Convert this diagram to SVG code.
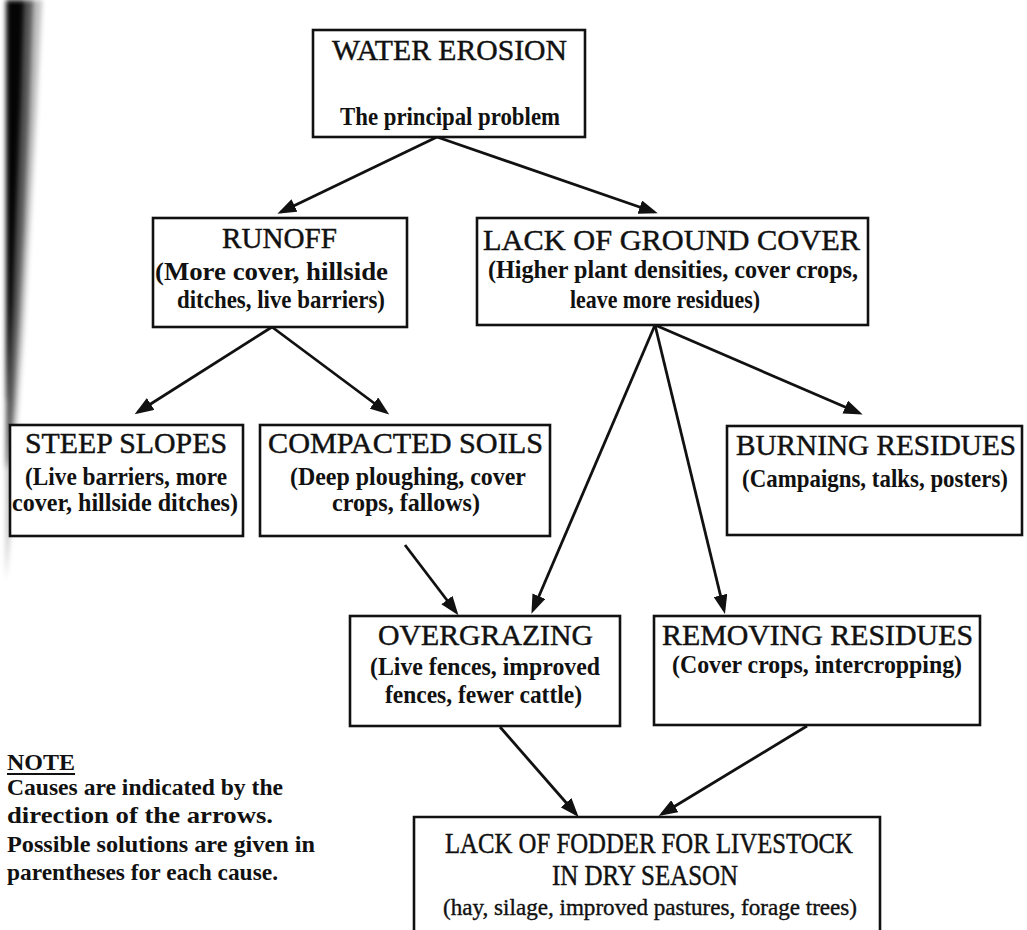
<svg xmlns="http://www.w3.org/2000/svg" width="1027" height="930" viewBox="0 0 1027 930">
  <defs>
    <style>
      .box { fill: #ffffff; stroke: #111111; stroke-width: 2.6; }
      .t { font-family: "Liberation Serif", "Times New Roman", serif; fill: #111111; }
      .title { font-size: 30px; font-weight: normal; stroke: #111111; stroke-width: 0.45; }
      .sub { font-size: 25px; font-weight: bold; }
      .note { font-size: 24px; font-weight: bold; }
      .link { stroke: #111111; stroke-width: 2.8; fill: none; marker-end: url(#head); }
    </style>
    <marker id="head" markerUnits="userSpaceOnUse" markerWidth="20" markerHeight="14" refX="15" refY="7" orient="auto">
      <path d="M0,0 L19,7 L0,14 Z" fill="#111111"/>
    </marker>
    <filter id="soften" x="-0.5" y="-0.1" width="2" height="1.2">
      <feGaussianBlur stdDeviation="2.5"/>
    </filter>
  </defs>

  <rect width="1027" height="930" fill="#ffffff"/>

  <!-- dark shading along the left margin, densest at the top -->
  <g id="margin-shade" filter="url(#soften)" fill="#000000">
    <path d="M6,0 L42,0 L36,120 L29,240 L23,340 L17,420 L11,520 L6,580 Z" opacity="0.25"/>
    <path d="M6,0 L33,0 L29,120 L24,230 L19,320 L14,400 L9,460 L6,470 Z" opacity="0.55"/>
    <path d="M6,0 L24,0 L21,100 L17,200 L13,300 L10,350 L7,400 L6,400 Z" opacity="0.95"/>
  </g>

  <g id="connectors">
    <line class="link" x1="437" y1="137" x2="281" y2="212"/>
    <line class="link" x1="437" y1="137" x2="654" y2="212"/>
    <line class="link" x1="272" y1="327" x2="138" y2="412"/>
    <line class="link" x1="272" y1="327" x2="386" y2="412"/>
    <line class="link" x1="655" y1="325" x2="859" y2="413"/>
    <line class="link" x1="655" y1="325" x2="533" y2="610"/>
    <line class="link" x1="655" y1="325" x2="724" y2="610"/>
    <line class="link" x1="405" y1="545" x2="456" y2="612"/>
    <line class="link" x1="500" y1="727" x2="576" y2="814"/>
    <line class="link" x1="807" y1="726" x2="662" y2="814"/>
  </g>

  <g id="water-erosion">
    <rect class="box" x="313" y="30" width="272" height="107"/>
    <text class="t title" x="332" y="60" textLength="235" lengthAdjust="spacingAndGlyphs">WATER EROSION</text>
    <text class="t sub" x="340" y="125" font-size="23" textLength="220" lengthAdjust="spacingAndGlyphs">The principal problem</text>
  </g>

  <g id="runoff">
    <rect class="box" x="153" y="218" width="254" height="109"/>
    <text class="t title" x="222" y="248" textLength="115" lengthAdjust="spacingAndGlyphs">RUNOFF</text>
    <text class="t sub" x="155" y="280" textLength="233" lengthAdjust="spacingAndGlyphs">(More cover, hillside</text>
    <text class="t sub" x="177" y="308" textLength="208" lengthAdjust="spacingAndGlyphs">ditches, live barriers)</text>
  </g>

  <g id="lack-of-ground-cover">
    <rect class="box" x="477" y="218" width="391" height="107"/>
    <text class="t title" x="483" y="250" textLength="377" lengthAdjust="spacingAndGlyphs">LACK OF GROUND COVER</text>
    <text class="t sub" x="488" y="278" textLength="370" lengthAdjust="spacingAndGlyphs">(Higher plant densities, cover crops,</text>
    <text class="t sub" x="570" y="308" textLength="190" lengthAdjust="spacingAndGlyphs">leave more residues)</text>
  </g>

  <g id="steep-slopes">
    <rect class="box" x="10" y="425" width="233" height="111"/>
    <text class="t title" x="25" y="453" textLength="202" lengthAdjust="spacingAndGlyphs">STEEP SLOPES</text>
    <text class="t sub" x="25" y="485" textLength="202" lengthAdjust="spacingAndGlyphs">(Live barriers, more</text>
    <text class="t sub" x="12" y="511" textLength="226" lengthAdjust="spacingAndGlyphs">cover, hillside ditches)</text>
  </g>

  <g id="compacted-soils">
    <rect class="box" x="260" y="425" width="290" height="111"/>
    <text class="t title" x="268" y="453" textLength="275" lengthAdjust="spacingAndGlyphs">COMPACTED SOILS</text>
    <text class="t sub" x="290" y="485" textLength="236" lengthAdjust="spacingAndGlyphs">(Deep ploughing, cover</text>
    <text class="t sub" x="332" y="511" textLength="148" lengthAdjust="spacingAndGlyphs">crops, fallows)</text>
  </g>

  <g id="burning-residues">
    <rect class="box" x="727" y="426" width="295" height="109"/>
    <text class="t title" x="736" y="455" textLength="280" lengthAdjust="spacingAndGlyphs">BURNING RESIDUES</text>
    <text class="t sub" x="742" y="487" font-size="22.5" textLength="266" lengthAdjust="spacingAndGlyphs">(Campaigns, talks, posters)</text>
  </g>

  <g id="overgrazing">
    <rect class="box" x="350" y="616" width="270" height="110"/>
    <text class="t title" x="378" y="645" textLength="215" lengthAdjust="spacingAndGlyphs">OVERGRAZING</text>
    <text class="t sub" x="370" y="675" textLength="230" lengthAdjust="spacingAndGlyphs">(Live fences, improved</text>
    <text class="t sub" x="385" y="703" textLength="197" lengthAdjust="spacingAndGlyphs">fences, fewer cattle)</text>
  </g>

  <g id="removing-residues">
    <rect class="box" x="654" y="616" width="326" height="109"/>
    <text class="t title" x="662" y="645" textLength="311" lengthAdjust="spacingAndGlyphs">REMOVING RESIDUES</text>
    <text class="t sub" x="672" y="673" textLength="290" lengthAdjust="spacingAndGlyphs">(Cover crops, intercropping)</text>
  </g>

  <g id="lack-of-fodder">
    <path class="box" d="M414,940 V817 H880 V940"/>
    <text class="t title" x="445" y="853" font-size="26" textLength="408" lengthAdjust="spacingAndGlyphs">LACK OF FODDER FOR LIVESTOCK</text>
    <text class="t title" x="552" y="885" font-size="26" textLength="186" lengthAdjust="spacingAndGlyphs">IN DRY SEASON</text>
    <text class="t" x="443" y="915" font-size="24" stroke="#111111" stroke-width="0.4" textLength="414" lengthAdjust="spacingAndGlyphs">(hay, silage, improved pastures, forage trees)</text>
  </g>

  <g id="note">
    <text class="t note" x="7" y="770" textLength="68" lengthAdjust="spacingAndGlyphs">NOTE</text>
    <line x1="7" y1="774" x2="75" y2="774" stroke="#111111" stroke-width="2"/>
    <text class="t note" x="7" y="795" textLength="276" lengthAdjust="spacingAndGlyphs">Causes are indicated by the</text>
    <text class="t note" x="7" y="823" textLength="266" lengthAdjust="spacingAndGlyphs">direction of the arrows.</text>
    <text class="t note" x="7" y="852" textLength="308" lengthAdjust="spacingAndGlyphs">Possible solutions are given in</text>
    <text class="t note" x="7" y="880" textLength="271" lengthAdjust="spacingAndGlyphs">parentheses for each cause.</text>
  </g>
</svg>
